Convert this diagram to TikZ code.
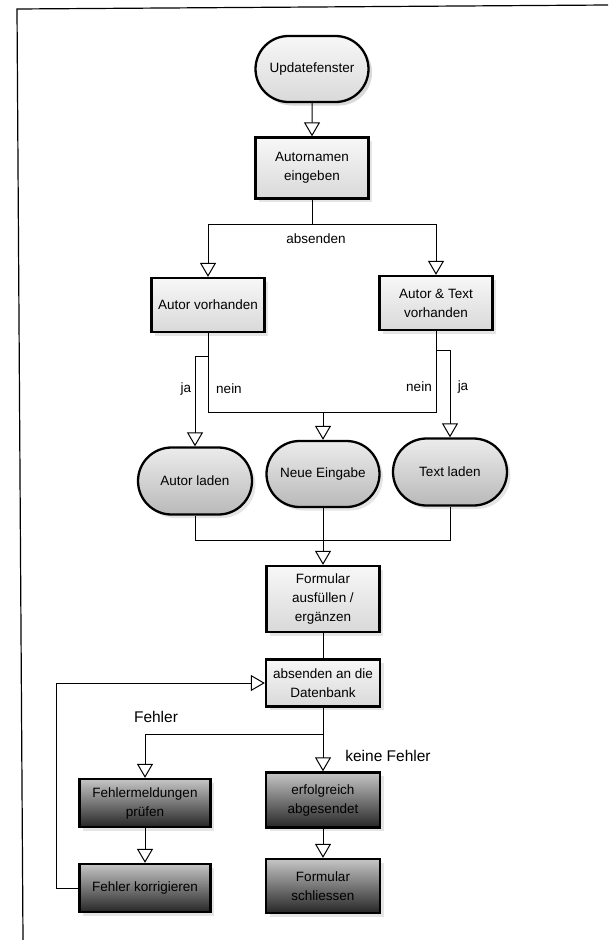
\documentclass[tikz,border=0pt]{standalone}
\usepackage{fontspec}
\setmainfont{Liberation Sans}
\usetikzlibrary{arrows.meta,shapes.misc,shadows}

\begin{document}
\begin{tikzpicture}[x=1pt,y=-1pt,
                box/.style={rectangle,draw=black,line width=2.3pt,align=center,
                    minimum width=113pt,
                    drop shadow={shadow xshift=3.5pt,shadow yshift=-3.5pt,fill=gray!40}},
                stadium/.style={box,rounded rectangle},
                lightbox/.style={box,top color=gray!6,bottom color=gray!30},
                midbox/.style={stadium,top color=gray!15,bottom color=gray!55},
                darkbox/.style={box,minimum width=131pt,top color=gray!45,bottom color=black!85},
                wire/.style={line width=1pt},
                flow/.style={wire,-{Triangle[length=14pt,width=16pt,fill=white]}},
                bigtext/.style={font=\fontsize{15.5}{18}\selectfont}]
                \tikzstyle{every node}+=[inner sep=0pt,font=\fontsize{13.5}{19}\selectfont]
                \useasboundingbox (0,0) rectangle (608,940);
                \draw [line width=1.2pt](608,5) -- (17,9) -- (23,940);

                \node (upd) at (312,69) [lightbox,stadium,minimum height=66pt] {Updatefenster};
                \node (autn) at (312,168) [lightbox,minimum height=61pt] {Autornamen\\eingeben};
                \node (autv) at (208,305) [lightbox,minimum height=54pt] {Autor vorhanden};
                \node (atv) at (436,303) [lightbox,minimum height=54pt] {Autor \& Text\\vorhanden};

                \node (autl) at (195,481) [midbox,minimum width=114pt,minimum height=67pt] {Autor laden};
                \node (neu) at (323,474) [midbox,minimum height=66pt] {Neue Eingabe};
                \node (txt) at (450,472) [midbox,minimum width=114pt,minimum height=67pt] {Text laden};

                \node (form) at (323,599) [lightbox,minimum height=66pt] {Formular\\ausfüllen /\\ergänzen};
                \node (send) at (323,683) [lightbox,minimum width=114pt,minimum height=47pt] {absenden an die\\Datenbank};

                \node (fmel) at (145,803) [darkbox,minimum height=48pt] {Fehlermeldungen\\prüfen};
                \node (fkor) at (145,888) [darkbox,minimum height=48pt] {Fehler korrigieren};
                \node (ok) at (323,800) [darkbox,minimum width=114pt,minimum height=55pt] {erfolgreich\\abgesendet};
                \node (close) at (323,886) [darkbox,minimum width=114pt,minimum height=54pt] {Formular\\schliessen};

                \draw [flow](upd) -- (autn);
                \draw [wire](autn.south) -- (312,224) coordinate (split);
                \draw [flow](split) -| (autv.north);
                \draw [flow](split) -| (atv.north);
                \node (absd) at (316,239) {absenden};

                \draw [flow](autv.south) -- ++(0,23) -| (autl.north);
                \draw [wire](autv.south) |- (323,412) coordinate (join);
                \draw [wire](atv.south) |- (join);
                \draw [flow](join) -- (neu.north);
                \draw [flow](atv.south) -- ++(0,19) -| (txt.north);
                \node (ja1) at (186,389) {ja};
                \node (nein1) at (229,389) {nein};
                \node (nein2) at (419,387) {nein};
                \node (ja2) at (463,387) {ja};

                \draw [wire](autl.south) -- ++(0,25) -| (txt.south);
                \draw [flow](neu.south) -- (form.north);
                \draw [wire](form) -- (send);

                \draw [wire](send.south) -- ++(0,27) coordinate (fork);
                \draw [flow](fork) -| (fmel.north);
                \draw [flow](fork) -- (ok.north);
                \node (err) at (156,717) [bigtext] {Fehler};
                \node (noerr) at (388,756) [bigtext] {keine Fehler};

                \draw [flow](fmel) -- (fkor);
                \draw [flow](fkor.west) -- ++(-22,0) |- (send.west);
                \draw [flow](ok) -- (close);
            \end{tikzpicture}
\end{document}
